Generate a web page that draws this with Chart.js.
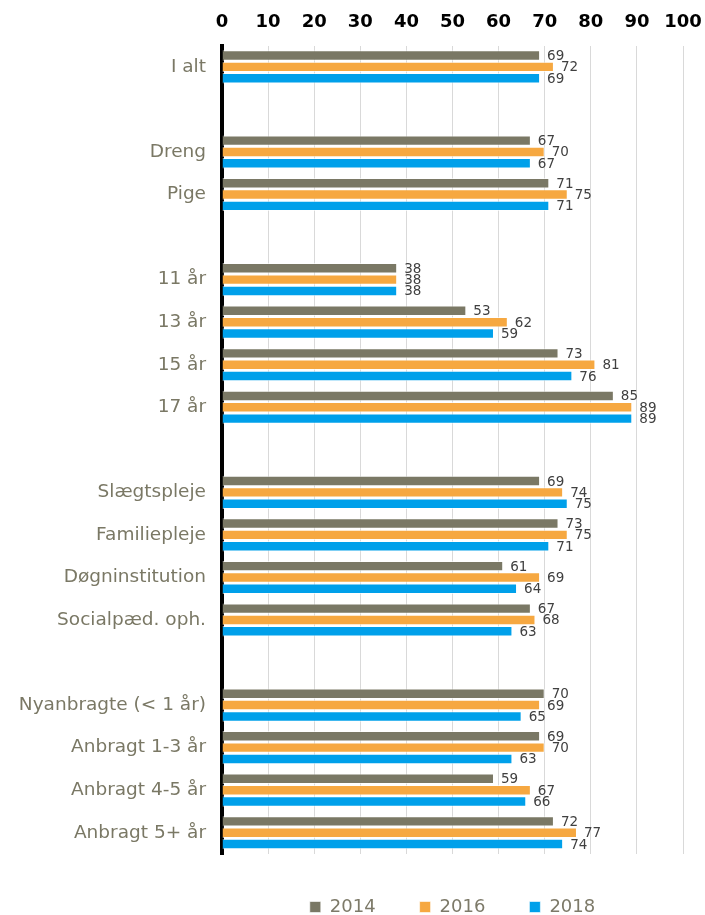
<!DOCTYPE html>
<html>
<head>
<meta charset="utf-8">
<script src="https://cdn.jsdelivr.net/npm/chart.js@4.4.0/dist/chart.umd.min.js"></script>
<style>
  html, body { margin: 0; padding: 0; background: #fff; }
  #wrap { width: 705px; height: 915px; position: relative; }
</style>
</head>
<body>
<div id="wrap"><canvas id="chart"></canvas></div>
<script>
// === Données ===
const categories = ['I alt', '', 'Dreng', 'Pige', '', '11 år', '13 år', '15 år', '17 år', '',
    'Slægtspleje', 'Familiepleje', 'Døgninstitution', 'Socialpæd. oph.', '',
    'Nyanbragte (< 1 år)', 'Anbragt 1-3 år', 'Anbragt 4-5 år', 'Anbragt 5+ år'];
const years = ['2014', '2016', '2018'];
const values2014 = [69, null, 67, 71, null, 38, 53, 73, 85, null, 69, 73, 61, 67, null, 70, 69, 59, 72];
const values2016 = [72, null, 70, 75, null, 38, 62, 81, 89, null, 74, 75, 69, 68, null, 69, 70, 67, 77];
const values2018 = [69, null, 67, 71, null, 38, 59, 76, 89, null, 75, 71, 64, 63, null, 65, 63, 66, 74];
const xTicks = [0, 10, 20, 30, 40, 50, 60, 70, 80, 90, 100];

const colors = ['#7a7865', '#f6a841', '#00a0ea'];
const labelFont = 'Verdana, "DejaVu Sans", sans-serif';

// petites étiquettes de valeur au bout des barres
const valueLabels = {
    id: 'valueLabels',
    afterDatasetsDraw(chart) {
        const ctx = chart.ctx;
        ctx.save();
        ctx.font = '13.5px ' + labelFont;
        ctx.fillStyle = '#404040';
        ctx.textBaseline = 'middle';
        ctx.textAlign = 'left';
        chart.data.datasets.forEach((ds, i) => {
            chart.getDatasetMeta(i).data.forEach((bar, j) => {
                const v = ds.data[j];
                if (v == null) return;
                ctx.fillText(v, bar.x + 7, bar.y + 1);
            });
        });
        ctx.restore();
    }
};

const ctx = document.getElementById('chart').getContext('2d');
new Chart(ctx, {
    type: 'bar',
    data: {
        labels: categories,
        datasets: [values2014, values2016, values2018].map((d, i) => ({
            label: years[i],
            data: d,
            backgroundColor: colors[i],
            borderColor: 'rgba(255,255,255,0.6)',
            borderWidth: 1,
            categoryPercentage: 0.8,
            barPercentage: 0.92
        }))
    },
    options: {
        indexAxis: 'y',
        responsive: true,
        maintainAspectRatio: false,
        animation: false,
        layout: { padding: { left: 10, right: 3, top: 0, bottom: -11 } },
        plugins: {
            tooltip: { enabled: false },
            legend: {
                position: 'bottom',
                fullSize: false,
                labels: {
                    boxWidth: 11,
                    boxHeight: 11,
                    padding: 44,
                    color: '#7d7a69',
                    font: { family: labelFont, size: 18 }
                }
            }
        },
        scales: {
            x: {
                position: 'top',
                min: 0,
                max: 100,
                afterBuildTicks: axis => { axis.ticks = xTicks.map(v => ({ value: v })); },
                afterFit: axis => { axis.paddingRight = 22; },
                ticks: {
                    color: '#000',
                    padding: 12,
                    font: { family: labelFont, size: 18, weight: 'bold' }
                },
                grid: { color: '#d9d9d9', drawTicks: false },
                border: { display: false }
            },
            y: {
                afterFit: axis => { axis.width = 212; },
                ticks: {
                    color: '#7a7865',
                    padding: 16,
                    autoSkip: false,
                    font: { family: labelFont, size: 18.5 }
                },
                grid: { display: false, drawTicks: false },
                border: { display: true, color: '#000', width: 4 }
            }
        }
    },
    plugins: [valueLabels]
});
</script>
</body>
</html>
